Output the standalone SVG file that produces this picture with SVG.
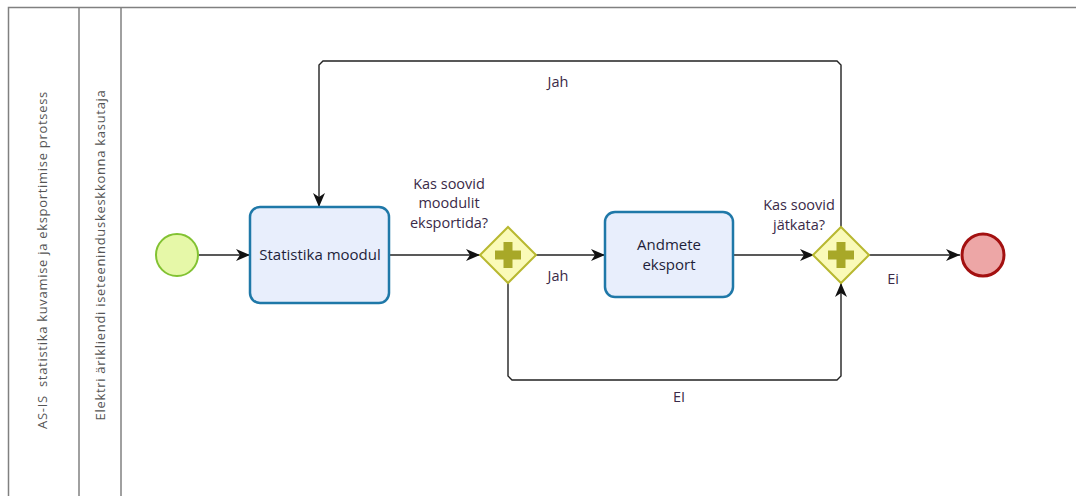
<svg xmlns="http://www.w3.org/2000/svg" width="1076" height="496" viewBox="0 0 1076 496">
  <defs>
    <marker id="arrow" viewBox="0 0 14 12" refX="14" refY="6" markerWidth="14" markerHeight="12" markerUnits="userSpaceOnUse" orient="auto">
      <path d="M0,0 L14,6 L0,12 L4,6 Z" fill="#111"/>
    </marker>
    <g id="plus">
      <path d="M-4.5,-13 H4.5 V-4.5 H13 V4.5 H4.5 V13 H-4.5 V4.5 H-13 V-4.5 H-4.5 Z" fill="#a8a828"/>
    </g>
  </defs>
  <style>
    .lane { fill: none; stroke: #808080; stroke-width: 1.5; }
    .lanelabel { font-family: "Open Sans", "DejaVu Sans", sans-serif; font-size: 13px; letter-spacing: 0.7px; fill: #555; text-anchor: middle; }
    .task { fill: #e8eefc; stroke: #1f78a8; stroke-width: 2.5; }
    .tasktext { font-family: "Open Sans", "DejaVu Sans", sans-serif; font-size: 15px; fill: #1e1e3a; text-anchor: middle; }
    .gw { fill: #fafab8; stroke: #b8b830; stroke-width: 2; }
    .flow { fill: none; stroke: #222; stroke-width: 1.4; }
    .label { font-family: "Open Sans", "DejaVu Sans", sans-serif; font-size: 14.5px; fill: #3a2a48; text-anchor: middle; }
  </style>

  <rect width="1076" height="496" fill="#fff"/>

  <!-- pool and lane -->
  <g id="pool">
    <path class="lane" d="M8.5,500 V7.5 H1080"/>
    <line class="lane" x1="79" y1="7.5" x2="79" y2="500"/>
    <line class="lane" x1="121" y1="7.5" x2="121" y2="500"/>
    <text class="lanelabel" transform="translate(47,260) rotate(-90)" xml:space="preserve">AS-IS  statistika kuvamise ja eksportimise protsess</text>
    <text class="lanelabel" transform="translate(105,255) rotate(-90)">Elektri ärikliendi iseteeninduskeskkonna kasutaja</text>
  </g>

  <!-- sequence flows -->
  <g id="connectors">
    <line class="flow" x1="199" y1="255" x2="250" y2="255" marker-end="url(#arrow)"/>
    <line class="flow" x1="390" y1="255" x2="480" y2="255" marker-end="url(#arrow)"/>
    <line class="flow" x1="536" y1="255" x2="605" y2="255" marker-end="url(#arrow)"/>
    <line class="flow" x1="734" y1="255" x2="814" y2="255" marker-end="url(#arrow)"/>
    <line class="flow" x1="869" y1="255" x2="960" y2="255" marker-end="url(#arrow)"/>
    <path class="flow" d="M841,227 V65 L837,61 H323 L319,65 V207" marker-end="url(#arrow)"/>
    <path class="flow" d="M508,283 V376 L512,380 H837 L841,376 V283" marker-end="url(#arrow)"/>
    <text class="label" x="558" y="87">Jah</text>
    <text class="label" x="558" y="281">Jah</text>
    <text class="label" x="893" y="284">Ei</text>
    <text class="label" x="679" y="402">EI</text>
  </g>

  <g id="start">
    <circle cx="177" cy="255" r="21" fill="#e6f8a8" stroke="#82c232" stroke-width="2"/>
  </g>

  <g id="task-statistika">
    <rect class="task" x="250" y="207" width="139" height="96" rx="10"/>
    <text class="tasktext" x="320" y="260">Statistika moodul</text>
  </g>

  <g id="gateway-eksport">
    <polygon class="gw" points="508,227 536,255 508,283 480,255"/>
    <use href="#plus" x="508" y="255"/>
    <text class="label" x="449" y="189">Kas soovid</text>
    <text class="label" x="449" y="208">moodulit</text>
    <text class="label" x="449" y="228">eksportida?</text>
  </g>

  <g id="task-andmete">
    <rect class="task" x="605" y="212" width="128" height="85" rx="10"/>
    <text class="tasktext" x="669" y="250">Andmete</text>
    <text class="tasktext" x="669" y="270">eksport</text>
  </g>

  <g id="gateway-jatka">
    <polygon class="gw" points="841,227 869,255 841,283 813,255"/>
    <use href="#plus" x="841" y="255"/>
    <text class="label" x="799" y="210">Kas soovid</text>
    <text class="label" x="799" y="230">jätkata?</text>
  </g>

  <g id="end">
    <circle cx="983" cy="255" r="21" fill="#eda6a6" stroke="#a31010" stroke-width="3"/>
  </g>
</svg>
